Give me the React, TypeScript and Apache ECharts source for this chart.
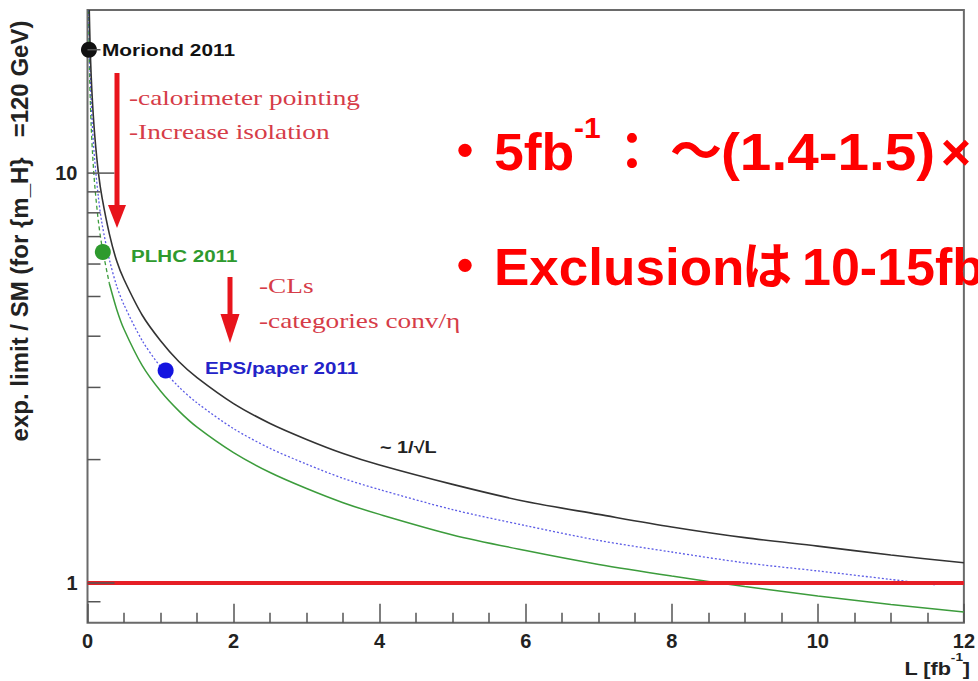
import React, { useEffect, useRef } from 'react';
import * as echarts from 'echarts';

// Integrated luminosity L [fb^-1] and expected limit / SM for each projection
const blackL = [0.024, 0.035, 0.05, 0.07, 0.1, 0.15, 0.2, 0.3, 0.4, 0.5, 0.75, 1, 1.25, 1.5, 2, 2.5, 3, 3.5, 4, 5, 6, 7, 8, 9, 10, 11, 12];
const blackV = [25, 20.7, 17.3, 14.7, 12.3, 10.0, 8.7, 7.1, 6.1, 5.5, 4.5, 3.9, 3.47, 3.17, 2.74, 2.45, 2.24, 2.07, 1.94, 1.74, 1.58, 1.47, 1.37, 1.29, 1.23, 1.17, 1.12];

const blueL = [0.018, 0.03, 0.05, 0.07, 0.1, 0.15, 0.2, 0.3, 0.4, 0.5, 0.75, 1, 1.25, 1.5, 2, 2.5, 3, 3.5, 4, 5, 6, 7, 8, 9, 10, 11, 11.6];
const blueV = [25, 19.5, 15.1, 12.7, 10.7, 8.7, 7.5, 6.15, 5.3, 4.77, 3.9, 3.37, 3.01, 2.75, 2.38, 2.13, 1.95, 1.8, 1.69, 1.51, 1.38, 1.27, 1.19, 1.12, 1.07, 1.02, 0.99];

const greenL = [0.014, 0.03, 0.05, 0.07, 0.1, 0.15, 0.2, 0.3, 0.4, 0.5, 0.75, 1, 1.25, 1.5, 2, 2.5, 3, 3.5, 4, 5, 6, 7, 8, 9, 10, 11, 12];
const greenV = [25, 17, 13.1, 11.1, 9.3, 7.6, 6.6, 5.37, 4.65, 4.16, 3.39, 2.94, 2.63, 2.4, 2.08, 1.86, 1.7, 1.57, 1.47, 1.31, 1.2, 1.11, 1.04, 0.98, 0.93, 0.886, 0.85];
const greenDashedUpTo = 0.3; // green projection is dashed at very low luminosity

// SM reference line
const smL = [0, 12];
const smV = [1, 1];

// Measured points
const pointNames = ['Moriond 2011', 'PLHC 2011', 'EPS/paper 2011'];
const pointL = [0.02, 0.21, 1.07];
const pointV = [20, 6.42, 3.3];
const pointColors = ['#111111', '#2e9a2e', '#1414e0'];

// Axis ticks
const xMin = 0;
const xMax = 12;
const xStep = 2;
const yMin = 0.8;
const yMax = 25;
const yMajorTicks = [1, 10];
const yMinorTicks = [0.9, 2, 3, 4, 5, 6, 7, 8, 9, 20];

const pairs = (xs: number[], ys: number[]) => xs.map((x, i) => [x, ys[i]]);

const SANS = "'Liberation Sans', Arial, Helvetica, sans-serif";
const SANS_CJK = "'Liberation Sans', Arial, 'Noto Sans CJK JP', sans-serif";
const SERIF = "'Liberation Serif', 'Times New Roman', serif";
const NOTE_RED = '#d63c48';
const BIG_RED = '#ff0000';
const ARROW_RED = '#e8141c';
const STRETCH = 1.24;

function tickSeries(values: number[], len: number) {
  return {
    type: 'custom',
    coordinateSystem: 'cartesian2d',
    data: values.map((v) => [xMin, v]),
    silent: true,
    clip: false,
    z: 20,
    renderItem: (_params: any, api: any) => {
      const p = api.coord([xMin, api.value(1)]);
      return {
        type: 'line',
        shape: { x1: p[0], y1: p[1], x2: p[0] + len, y2: p[1] },
        style: { stroke: '#555555', lineWidth: 1.5 },
      };
    },
  };
}

function txt(
  text: string,
  x: number,
  y: number,
  opts: { size: number; color: string; family?: string; weight?: string; align?: string; scaleX?: number; rotation?: number }
) {
  return {
    type: 'text',
    x,
    y,
    scaleX: opts.scaleX ?? 1,
    rotation: opts.rotation ?? 0,
    z: 50,
    silent: true,
    style: {
      text,
      fill: opts.color,
      fontSize: opts.size,
      fontWeight: opts.weight ?? 'bold',
      fontFamily: opts.family ?? SANS,
      textAlign: opts.align ?? 'left',
      textVerticalAlign: 'middle',
    },
  };
}

export default function App() {
  const ref = useRef<HTMLDivElement>(null);

  useEffect(() => {
    if (!ref.current) return;
    const chart = echarts.init(ref.current, undefined, { renderer: 'svg' });

    const greenDashed = pairs(greenL, greenV).filter((p) => p[0] <= greenDashedUpTo);
    const greenSolid = pairs(greenL, greenV).filter((p) => p[0] >= greenDashedUpTo);

    const axisLabelStyle = {
      fontSize: 20,
      fontWeight: 'bold',
      fontFamily: SANS,
      color: '#222222',
    };

    chart.setOption({
      animation: false,
      backgroundColor: '#ffffff',
      grid: {
        show: true,
        left: 87.5,
        right: 7.5,
        top: 10,
        bottom: 58.3,
        borderColor: '#6a6a6a',
        borderWidth: 2,
        backgroundColor: 'transparent',
      },
      xAxis: {
        type: 'value',
        min: xMin,
        max: xMax,
        interval: xStep,
        axisLine: { show: false },
        axisTick: { show: true, inside: true, length: 19, lineStyle: { color: '#555555', width: 1.5 } },
        minorTick: { show: true, splitNumber: 4, length: 10, lineStyle: { color: '#555555', width: 1.5 } },
        splitLine: { show: false },
        axisLabel: { ...axisLabelStyle, margin: 8 },
      },
      yAxis: {
        type: 'log',
        logBase: 10,
        min: yMin,
        max: yMax,
        axisLine: { show: false },
        axisTick: { show: false },
        splitLine: { show: false },
        axisLabel: {
          ...axisLabelStyle,
          margin: 10,
          formatter: (v: number) => {
            const hit = yMajorTicks.find((t) => Math.abs(v - t) < 1e-6 * t);
            return hit !== undefined ? String(hit) : '';
          },
        },
      },
      series: [
        {
          type: 'line',
          name: 'green-dashed',
          data: greenDashed,
          showSymbol: false,
          smooth: 0.3,
          lineStyle: { color: '#3c9c3c', width: 1.3, type: [4, 3] },
          z: 3,
        },
        {
          type: 'line',
          name: 'green',
          data: greenSolid,
          showSymbol: false,
          smooth: 0.3,
          lineStyle: { color: '#3c9c3c', width: 1.5 },
          z: 3,
        },
        {
          type: 'line',
          name: 'blue',
          data: pairs(blueL, blueV),
          showSymbol: false,
          smooth: 0.3,
          lineStyle: { color: '#5c5ce6', width: 1.3, type: [2, 2] },
          z: 3,
        },
        {
          type: 'line',
          name: 'black',
          data: pairs(blackL, blackV),
          showSymbol: false,
          smooth: 0.3,
          lineStyle: { color: '#333333', width: 1.6 },
          z: 4,
        },
        {
          type: 'line',
          name: 'SM',
          data: pairs(smL, smV),
          showSymbol: false,
          lineStyle: { color: '#e61e25', width: 4 },
          z: 6,
        },
        {
          type: 'scatter',
          data: pointL.map((l, i) => ({
            value: [l, pointV[i]],
            name: pointNames[i],
            itemStyle: { color: pointColors[i], opacity: 1 },
          })),
          symbolSize: 16,
          itemStyle: { opacity: 1 },
          z: 8,
        },
        tickSeries(yMajorTicks, 27),
        tickSeries(yMinorTicks, 13),
      ],
      graphic: [
        // axis titles
        txt('exp. limit / SM (for {m_H}   =120 GeV)', 19, 231, { size: 24, color: '#222222', align: 'center', rotation: Math.PI / 2 }),
        txt(']', 970, 669, { size: 17.5, color: '#222222', align: 'right', scaleX: STRETCH }),
        txt('-1', 963, 657, { size: 11, color: '#222222', align: 'right', scaleX: STRETCH }),
        txt('L [fb', 951, 669, { size: 17.5, color: '#222222', align: 'right', scaleX: STRETCH }),

        // point labels
        txt('Moriond 2011', 102, 50, { size: 16.8, color: '#111111', scaleX: STRETCH }),
        txt('PLHC 2011', 131, 256, { size: 16.6, color: '#2e9a2e', scaleX: STRETCH }),
        txt('EPS/paper 2011', 205, 368, { size: 16.6, color: '#2323c8', scaleX: STRETCH }),
        txt('~ 1/√L', 380, 448, { size: 16, color: '#222222', scaleX: STRETCH }),

        // improvement notes
        txt('-calorimeter pointing', 129, 97, { size: 22, color: NOTE_RED, family: SERIF, weight: 'normal', scaleX: STRETCH }),
        txt('-Increase isolation', 129, 131, { size: 22, color: NOTE_RED, family: SERIF, weight: 'normal', scaleX: STRETCH }),
        txt('-CLs', 259, 285, { size: 22, color: NOTE_RED, family: SERIF, weight: 'normal', scaleX: STRETCH }),
        txt('-categories conv/η', 259, 320, { size: 22, color: NOTE_RED, family: SERIF, weight: 'normal', scaleX: STRETCH }),

        // arrows
        { type: 'rect', z: 40, silent: true, shape: { x: 114.5, y: 73, width: 5, height: 136 }, style: { fill: ARROW_RED } },
        { type: 'polygon', z: 40, silent: true, shape: { points: [[108, 205], [126, 205], [117, 228]] }, style: { fill: ARROW_RED } },
        { type: 'rect', z: 40, silent: true, shape: { x: 227.5, y: 277, width: 5, height: 40 }, style: { fill: ARROW_RED } },
        { type: 'polygon', z: 40, silent: true, shape: { points: [[220.5, 314], [239.5, 314], [230, 343]] }, style: { fill: ARROW_RED } },

        // summary bullets
        txt('・', 465, 152, { size: 52, color: BIG_RED, family: SANS_CJK, align: 'center' }),
        txt('5fb', 494, 152, { size: 52, color: BIG_RED, scaleX: 1.03 }),
        txt('-1', 574, 127, { size: 30, color: BIG_RED }),
        txt('：', 632, 152, { size: 52, color: BIG_RED, family: SANS_CJK, align: 'center' }),
        txt('～', 696, 152, { size: 52, color: BIG_RED, family: SANS_CJK, align: 'center' }),
        txt('(1.4-1.5)', 721, 152, { size: 52, color: BIG_RED, scaleX: 1.09 }),
        txt('×', 956, 152, { size: 52, color: BIG_RED, align: 'center' }),

        txt('・', 465, 267, { size: 52, color: BIG_RED, family: SANS_CJK, align: 'center' }),
        txt('Exclusion', 494, 267, { size: 52, color: BIG_RED, scaleX: 1.02 }),
        txt('は', 742, 267, { size: 50, color: BIG_RED, family: SANS_CJK }),
        txt('10-15fb', 802, 267, { size: 52, color: BIG_RED }),
      ],
    });

    return () => chart.dispose();
  }, []);

  return (
    <div
      ref={ref}
      style={{ position: 'fixed', left: 0, top: 0, width: 978, height: 681, background: '#ffffff' }}
    />
  );
}
